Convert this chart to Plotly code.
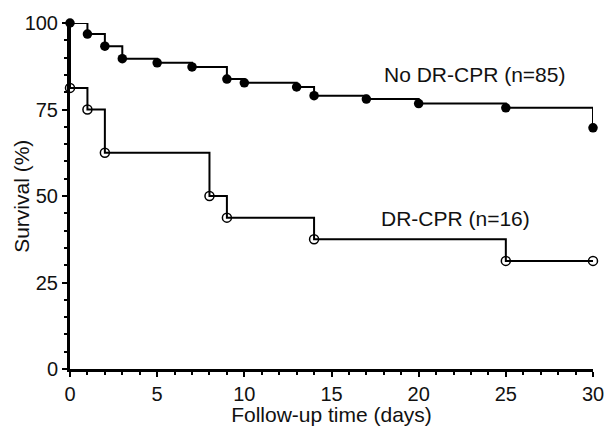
import plotly.graph_objects as go

# No DR-CPR group (n=85): step drop days and survival after each drop
no_days = [0, 1, 2, 3, 5, 7, 9, 10, 13, 14, 17, 20, 25, 30]
no_surv = [100, 96.8, 93.3, 89.7, 88.5, 87.3, 83.8, 82.7, 81.5, 79.0, 78.0, 76.7, 75.5, 69.7]

# DR-CPR group (n=16)
dr_days = [0, 1, 2, 8, 9, 14, 25, 30]
dr_surv = [81.25, 75.0, 62.5, 50.0, 43.75, 37.5, 31.25, 31.25]

x_ticks = [0, 5, 10, 15, 20, 25, 30]
y_ticks = [0, 25, 50, 75, 100]

FONT = "Liberation Sans, Arial, sans-serif"

fig = go.Figure()

# step lines
fig.add_trace(go.Scatter(
    x=no_days, y=no_surv, mode="lines", line=dict(color="black", width=2, shape="hv"),
    showlegend=False, cliponaxis=False, hoverinfo="skip"))
fig.add_trace(go.Scatter(
    x=[0] + dr_days, y=[100] + dr_surv, mode="lines",
    line=dict(color="black", width=2, shape="hv"),
    showlegend=False, cliponaxis=False, hoverinfo="skip"))

# markers
fig.add_trace(go.Scatter(
    x=no_days, y=no_surv, mode="markers",
    marker=dict(symbol="circle", size=9.5, color="black"),
    showlegend=False, cliponaxis=False))
fig.add_trace(go.Scatter(
    x=dr_days, y=dr_surv, mode="markers",
    marker=dict(symbol="circle-open", size=9, color="black", line=dict(width=1.5, color="black")),
    showlegend=False, cliponaxis=False))

fig.add_annotation(x=23.2, y=85, text="No DR-CPR (n=85)", showarrow=False,
                   font=dict(family=FONT, size=21, color="#111"))
fig.add_annotation(x=22.1, y=43.6, text="DR-CPR (n=16)", showarrow=False,
                   font=dict(family=FONT, size=21, color="#111"))
# y axis title placed as rotated annotation for exact position
fig.add_annotation(x=-0.094, y=0.5, xref="paper", yref="paper", text="Survival (%)",
                   textangle=-90, showarrow=False, xanchor="center", yanchor="middle",
                   font=dict(family=FONT, size=21, color="#111"))

fig.update_layout(
    width=606, height=426,
    margin=dict(l=70, r=13, t=23, b=57),
    paper_bgcolor="white", plot_bgcolor="white",
    font=dict(family=FONT, size=20, color="#111"),
    xaxis=dict(
        range=[0, 30], tickvals=x_ticks, ticktext=[str(v) for v in x_ticks],
        showgrid=False, zeroline=False, showline=True, linecolor="black", linewidth=3,
        ticks="outside", ticklen=5, tickwidth=2, tickcolor="black",
        minor=dict(dtick=1, ticks="outside", ticklen=3, tickwidth=1.5, tickcolor="black"),
        title=dict(text="Follow-up time (days)", font=dict(size=21)),
        tickfont=dict(size=20), automargin=False,
    ),
    yaxis=dict(
        range=[0, 100], tickvals=y_ticks, ticktext=[str(v) for v in y_ticks],
        showgrid=False, zeroline=False, showline=True, linecolor="black", linewidth=3,
        ticks="outside", ticklen=5, tickwidth=2, tickcolor="black",
        minor=dict(dtick=5, ticks="outside", ticklen=3, tickwidth=1.5, tickcolor="black"),
        tickfont=dict(size=20), automargin=False,
    ),
)

fig.write_html("out.html", config={"displayModeBar": False},
               post_script="document.body.style.margin='0';")
